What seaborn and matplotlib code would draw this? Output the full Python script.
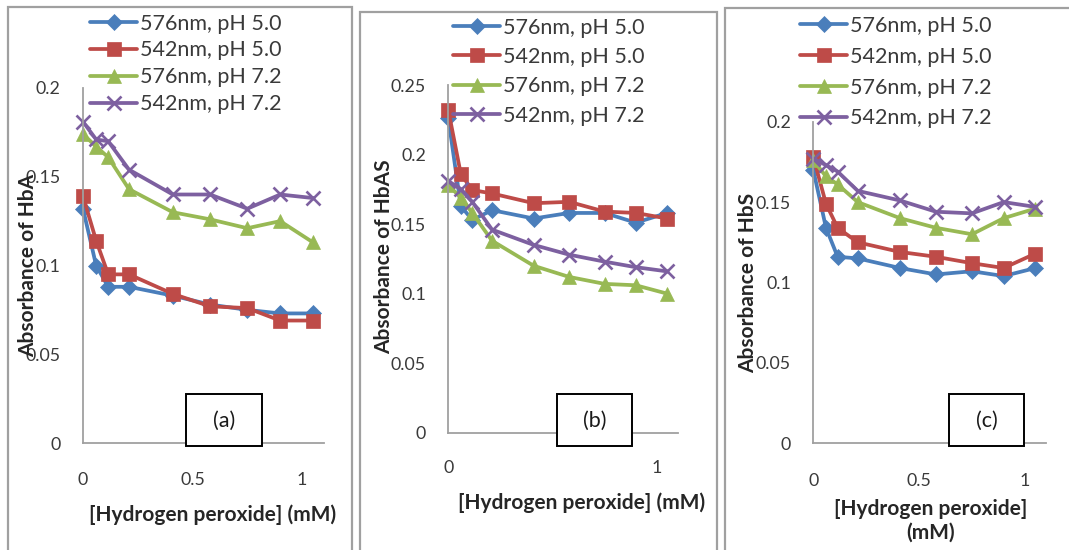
import matplotlib
matplotlib.use("Agg")
import matplotlib.pyplot as plt
from matplotlib.patches import Rectangle
import seaborn as sns
import pandas as pd

# ---------------- data ----------------
h2o2_mM = [0, 0.06, 0.115, 0.21, 0.41, 0.58, 0.75, 0.9, 1.05]
series_names = ["576nm, pH 5.0", "542nm, pH 5.0", "576nm, pH 7.2", "542nm, pH 7.2"]

hba_576_ph50 = [0.132, 0.100, 0.088, 0.088, 0.083, 0.078, 0.075, 0.073, 0.073]
hba_542_ph50 = [0.139, 0.114, 0.095, 0.095, 0.084, 0.077, 0.076, 0.069, 0.069]
hba_576_ph72 = [0.174, 0.167, 0.161, 0.143, 0.130, 0.126, 0.121, 0.125, 0.113]
hba_542_ph72 = [0.181, 0.171, 0.170, 0.154, 0.140, 0.140, 0.132, 0.140, 0.138]

hbas_576_ph50 = [0.226, 0.163, 0.153, 0.160, 0.154, 0.158, 0.158, 0.151, 0.158]
hbas_542_ph50 = [0.232, 0.186, 0.1745, 0.172, 0.165, 0.166, 0.159, 0.158, 0.154]
hbas_576_ph72 = [0.178, 0.169, 0.158, 0.138, 0.120, 0.112, 0.107, 0.106, 0.100]
hbas_542_ph72 = [0.181, 0.175, 0.166, 0.146, 0.135, 0.128, 0.123, 0.119, 0.116]

hbs_576_ph50 = [0.170, 0.134, 0.116, 0.115, 0.109, 0.105, 0.107, 0.104, 0.109]
hbs_542_ph50 = [0.178, 0.149, 0.134, 0.125, 0.119, 0.116, 0.112, 0.109, 0.118]
hbs_576_ph72 = [0.176, 0.166, 0.161, 0.150, 0.140, 0.134, 0.130, 0.140, 0.146]
hbs_542_ph72 = [0.177, 0.173, 0.169, 0.157, 0.151, 0.144, 0.143, 0.150, 0.147]

panel_tags = ["(a)", "(b)", "(c)"]
ylabels = ["Absorbance of HbA", "Absorbance of HbAS", "Absorbance of HbS"]
xlabels = ["[Hydrogen peroxide] (mM)", "[Hydrogen peroxide] (mM)", "[Hydrogen peroxide]\n(mM)"]
xtick_sets = [[0, 0.5, 1], [0, 1], [0, 0.5, 1]]
xtick_labels = [["0", "0.5", "1"], ["0", "1"], ["0", "0.5", "1"]]
ytick_sets = [[0, 0.05, 0.1, 0.15, 0.2], [0, 0.05, 0.1, 0.15, 0.2, 0.25], [0, 0.05, 0.1, 0.15, 0.2]]
ytick_labels = [["0", "0.05", "0.1", "0.15", "0.2"], ["0", "0.05", "0.1", "0.15", "0.2", "0.25"],
                ["0", "0.05", "0.1", "0.15", "0.2"]]
panels = [
    [hba_576_ph50, hba_542_ph50, hba_576_ph72, hba_542_ph72],
    [hbas_576_ph50, hbas_542_ph50, hbas_576_ph72, hbas_542_ph72],
    [hbs_576_ph50, hbs_542_ph50, hbs_576_ph72, hbs_542_ph72],
]

# ---------------- style ----------------
sns.set_theme(style="white")
plt.rcParams["font.family"] = ["Lato", "DejaVu Sans"]

colors = ["#4A7EBB", "#BE4B48", "#98B954", "#7D60A0"]
markers = ["D", "s", "^", "x"]
msizes = [8.5, 10, 10.5, 10.5]

W, H = 1069, 550
fig = plt.figure(figsize=(W / 100, H / 100), dpi=100)
fig.patch.set_facecolor("white")


def fx(px):
    return px / W


def fy(py):
    return 1 - py / H


# panel frames (px): left, top, right, bottom
frames = [(8, 7, 352, 560), (360, 12, 717, 560), (725, 8, 1085, 560)]
# axes in px: left, right, top, bottom
axes_px = [(83, 324, 88, 443), (448.3, 677.5, 85, 432.7), (813.3, 1046, 121.7, 443.3)]
ymaxes = [0.2, 0.25, 0.2]
legend_anchor = [(90, 13.5), (453, 17.5), (800, 16)]
legend_spacing = [0.32, 0.44, 0.5]
ylabel_pos = [(28, 265), (384, 257), (748, 283)]
xlabel_pos = [(213, 515), (582, 503), (931, 521)]
xtick_pad = [21, 20, 21.5]
tag_boxes = [(186, 394, 262, 446), (557, 394, 632, 446), (949, 394, 1024, 446)]

for (l, t, r, b) in frames:
    fig.add_artist(Rectangle((fx(l), fy(b)), fx(r - l), (b - t) / H, transform=fig.transFigure,
                             fill=False, edgecolor="#a0a0a0", linewidth=1.6, zorder=0))

for i in range(3):
    l, r, t, b = axes_px[i]
    ax = fig.add_axes([fx(l), fy(b), fx(r - l), (b - t) / H])
    ax.set_facecolor("none")
    for k in range(4):
        df = pd.DataFrame({"x": h2o2_mM, "y": panels[i][k]})
        sns.lineplot(data=df, x="x", y="y", ax=ax, color=colors[k], linewidth=2.7,
                     marker=markers[k], markersize=msizes[k], markeredgecolor=colors[k],
                     markerfacecolor=colors[k], markeredgewidth=1.9 if markers[k] == "x" else 0.5,
                     label=series_names[k], clip_on=False, sort=False)
    ax.set_xlim(0, 1.1)
    ax.set_ylim(0, ymaxes[i])
    ax.set_xticks(xtick_sets[i])
    ax.set_xticklabels(xtick_labels[i])
    ax.set_yticks(ytick_sets[i])
    ax.set_yticklabels(ytick_labels[i])
    ax.tick_params(axis="both", length=0, labelsize=12.8, colors="#3a3a3a")
    ax.tick_params(axis="y", pad=16)
    ax.tick_params(axis="x", pad=xtick_pad[i])
    for s in ["top", "right"]:
        ax.spines[s].set_visible(False)
    for s in ["left", "bottom"]:
        ax.spines[s].set_color("#a0a0a0")
        ax.spines[s].set_linewidth(1.3)

    ax.set_ylabel(ylabels[i], fontsize=15, fontweight="bold", color="#262626")
    ax.yaxis.set_label_coords(fx(ylabel_pos[i][0]), fy(ylabel_pos[i][1]), transform=fig.transFigure)
    ax.yaxis.label.set_va("center")
    ax.yaxis.label.set_ha("center")
    ax.set_xlabel(xlabels[i], fontsize=15, fontweight="bold", color="#262626", linespacing=1.2)
    ax.xaxis.set_label_coords(fx(xlabel_pos[i][0]), fy(xlabel_pos[i][1]), transform=fig.transFigure)
    ax.xaxis.label.set_va("center")
    ax.xaxis.label.set_ha("center")

    handles, labels = ax.get_legend_handles_labels()
    leg = ax.legend(handles, labels, loc="upper left",
                    bbox_to_anchor=(fx(legend_anchor[i][0]), fy(legend_anchor[i][1])),
                    bbox_transform=fig.transFigure, frameon=False, borderpad=0, borderaxespad=0,
                    handlelength=2.2, handletextpad=0.1, labelspacing=legend_spacing[i],
                    fontsize=15.5)
    for txt in leg.get_texts():
        txt.set_color("#3a3a3a")

    bl, bt, br, bb = tag_boxes[i]
    fig.add_artist(Rectangle((fx(bl), fy(bb)), fx(br - bl), (bb - bt) / H, transform=fig.transFigure,
                             facecolor="white", edgecolor="black", linewidth=1.4, zorder=5))
    fig.text(fx((bl + br) / 2), fy((bt + bb) / 2 + 1), panel_tags[i], ha="center", va="center",
             fontsize=15.5, color="#1a1a1a", zorder=6)

fig.savefig("out.png", dpi=100, facecolor="white")
